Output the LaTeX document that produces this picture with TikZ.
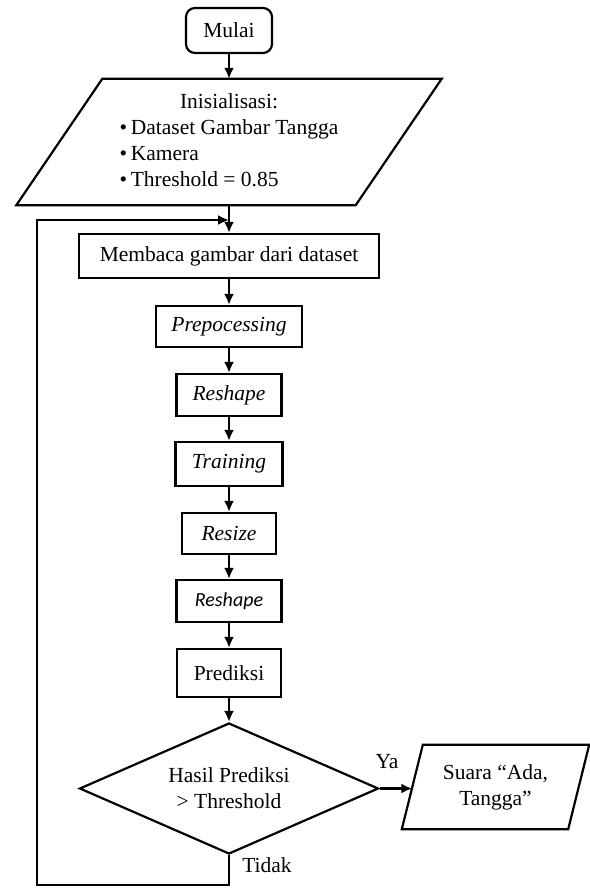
\documentclass[tikz,border=0pt]{standalone}
\usepackage{fontspec}
\setmainfont{Liberation Serif}
\newfontfamily\carlito{Carlito}
\usetikzlibrary{shapes.geometric,arrows.meta}

\begin{document}
\begin{tikzpicture}[x=1pt, y=-1pt,
    box/.style={draw, line width=2.2pt, inner sep=0pt, font=\fontsize{21.5}{26}\selectfont},
    flow/.style={line width=2.8pt, -{Latex[length=11pt,width=10pt]}},
    lbl/.style={inner sep=0pt, font=\fontsize{21.5}{26}\selectfont}]
    \useasboundingbox (0,0) rectangle (589,888);

    % Draw nodes
    \node[box, rounded corners=9pt, minimum width=86pt, minimum height=45pt] (start) at (229,30.5) {Mulai};
    \node[lbl, minimum width=339pt, minimum height=126pt] (init) at (229,142) {\begin{tabular}{@{}l@{}}\multicolumn{1}{@{}c@{}}{Inisialisasi:}\\ \textbullet\,Dataset Gambar Tangga\\ \textbullet\,Kamera\\ \textbullet\,Threshold = 0.85\end{tabular}};
    \node[box, minimum width=300pt, minimum height=44pt] (read) at (229,256) {Membaca gambar dari dataset};
    \node[box, minimum width=146pt, minimum height=41pt] (prep) at (229,326.5) {\itshape Prepocessing};
    \node[box, minimum width=105pt, minimum height=42pt] (reshape) at (229,395) {\itshape Reshape};
    \node[box, minimum width=107pt, minimum height=44pt] (train) at (229,464) {\itshape Training};
    \node[box, minimum width=94pt, minimum height=41pt] (resize) at (229,533.5) {\itshape Resize};
    \node[box, minimum width=105pt, minimum height=42pt, font=\carlito\itshape\fontsize{20}{24}\selectfont] (reshapeb) at (229,601) {Reshape};
    \node[box, minimum width=104pt, minimum height=48pt] (predict) at (229,673) {Prediksi};
    \node[box, diamond, aspect=2.3, minimum width=299pt, minimum height=131pt, align=center] (dec) at (229,788.5) {Hasil Prediksi\\> Threshold};
    \node[lbl, minimum width=166pt, minimum height=84pt, align=center] (sound) at (495.5,787) {Suara “Ada,\\Tangga”};

    % Slanted boxes
    \draw[line width=2.2pt] ([xshift=43pt]init.north west) -- ([xshift=43pt]init.north east) -- ([xshift=-43pt]init.south east) -- ([xshift=-43pt]init.south west) -- cycle;
    \draw[line width=2.2pt] ([xshift=10.5pt]sound.north west) -- ([xshift=10.5pt]sound.north east) -- ([xshift=-10.5pt]sound.south east) -- ([xshift=-10.5pt]sound.south west) -- cycle;

    % Draw connections
    \draw[flow] (start) -- (init);
    \draw[flow] (init) -- (read);
    \draw[flow] (read) -- (prep);
    \draw[flow] (prep) -- (reshape);
    \draw[flow] (reshape) -- (train);
    \draw[flow] (train) -- (resize);
    \draw[flow] (resize) -- (reshapeb);
    \draw[flow] (reshapeb) -- (predict);
    \draw[flow] (predict) -- (dec);
    \draw[flow] (dec.east) -- (dec.east -| sound.west);

    % Loop back
    \coordinate (back) at (37,885);
    \coordinate (merge) at (229,220);
    \draw[flow] (dec.south) |- (back) |- (merge);

    % Labels
    \node[lbl] (ya) at (387,762) {Ya};
    \node[lbl] (tidak) at (267,865) {Tidak};
\end{tikzpicture}
\end{document}
